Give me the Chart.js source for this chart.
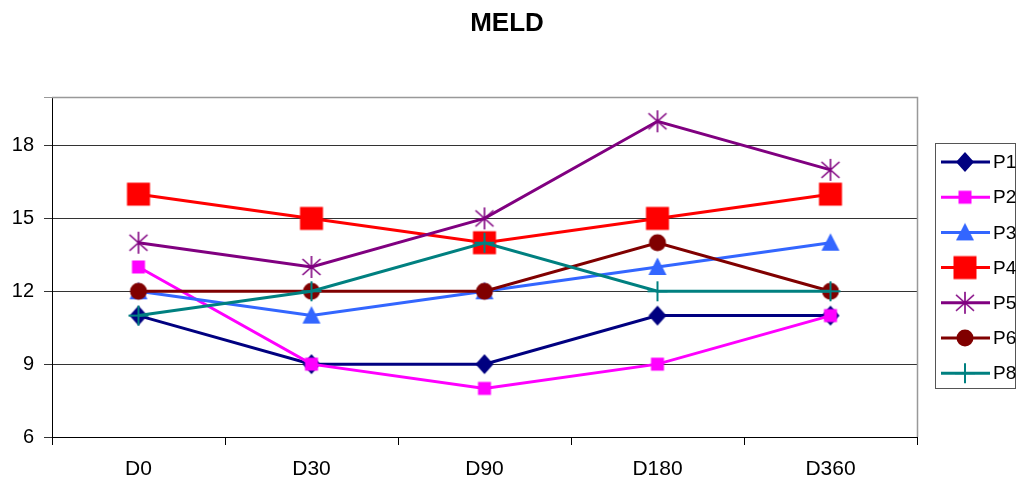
<!DOCTYPE html>
<html>
<head>
<meta charset="utf-8">
<script src="https://cdn.jsdelivr.net/npm/chart.js@4/dist/chart.umd.min.js"></script>
<style>
  html, body { margin: 0; padding: 0; background: #fff; }
  #wrap { width: 1017px; height: 484px; position: relative; }
</style>
</head>
<body>
<div id="wrap"><canvas id="c" width="1017" height="484"></canvas></div>
<script>
const categories = ['D0', 'D30', 'D90', 'D180', 'D360'];
const seriesNames = ['P1', 'P2', 'P3', 'P4', 'P5', 'P6', 'P8'];
const P1 = [11, 9, 9, 11, 11];
const P2 = [13, 9, 8, 9, 11];
const P3 = [12, 11, 12, 13, 14];
const P4 = [16, 15, 14, 15, 16];
const P5 = [14, 13, 15, 19, 17];
const P6 = [12, 12, 12, 14, 12];
const P8 = [11, 12, 14, 12, 12];
const yTicks = [6, 9, 12, 15, 18];
const chartTitle = 'MELD';

const seriesValues = [P1, P2, P3, P4, P5, P6, P8];
const colors = ['#000080', '#FF00FF', '#3366FF', '#FF0000', '#800080', '#800000', '#008080'];
const shapes = ['diamond', 'square', 'triangle', 'bigsquare', 'star', 'circle', 'cross'];
const FONT = '"Liberation Sans", Arial, sans-serif';

function makeMarker(shape, color) {
  const s = 26;
  const c = document.createElement('canvas');
  c.width = s; c.height = s;
  const g = c.getContext('2d');
  const m = s / 2;
  g.fillStyle = color; g.strokeStyle = color;
  g.beginPath();
  if (shape === 'diamond') {
    g.moveTo(m, m - 10); g.lineTo(m + 9, m); g.lineTo(m, m + 10); g.lineTo(m - 9, m); g.closePath(); g.fill();
  } else if (shape === 'square') {
    g.fillRect(m - 6.5, m - 6.5, 13, 13);
  } else if (shape === 'bigsquare') {
    g.fillRect(m - 11.5, m - 11.5, 23, 23);
  } else if (shape === 'triangle') {
    g.moveTo(m, m - 9.5); g.lineTo(m + 9, m + 8); g.lineTo(m - 9, m + 8); g.closePath(); g.fill();
  } else if (shape === 'circle') {
    g.arc(m, m, 8.5, 0, Math.PI * 2); g.fill();
  } else if (shape === 'star') {
    g.lineWidth = 1.6;
    g.moveTo(m, m - 11); g.lineTo(m, m + 11);
    g.moveTo(m - 9, m - 8); g.lineTo(m + 9, m + 8);
    g.moveTo(m + 9, m - 8); g.lineTo(m - 9, m + 8);
    g.stroke();
  } else if (shape === 'cross') {
    g.lineWidth = 2;
    g.moveTo(m, m - 10); g.lineTo(m, m + 10);
    g.moveTo(m - 10, m); g.lineTo(m + 10, m);
    g.stroke();
  }
  return c;
}
const markers = shapes.map((s, i) => makeMarker(s, colors[i]));

const datasets = seriesNames.map((name, i) => ({
  label: name,
  data: seriesValues[i],
  borderColor: colors[i],
  backgroundColor: colors[i],
  borderWidth: 3,
  pointStyle: markers[i],
  pointRadius: 10,
  pointHoverRadius: 10,
  tension: 0,
  fill: false,
  order: seriesNames.length - i
}));

const framePlugin = {
  id: 'frame',
  beforeDatasetsDraw(chart) {
    const { ctx, chartArea: a } = chart;
    ctx.save();
    ctx.strokeStyle = '#999999';
    ctx.lineWidth = 1.5;
    ctx.beginPath();
    ctx.moveTo(a.left, a.top + 0.5);
    ctx.lineTo(a.right + 0.5, a.top + 0.5);
    ctx.lineTo(a.right + 0.5, a.bottom);
    ctx.stroke();
    ctx.restore();
  },
  afterDraw(chart) {
    const { ctx } = chart;
    ctx.save();
    // Title
    ctx.fillStyle = '#000';
    ctx.font = 'bold 26px ' + FONT;
    ctx.textAlign = 'center';
    ctx.textBaseline = 'middle';
    ctx.fillText(chartTitle, 507, 23.5);
    // Legend
    const bx = 935.5, by = 143.5, bw = 80, bh = 245;
    ctx.strokeStyle = '#555';
    ctx.lineWidth = 1;
    ctx.strokeRect(bx, by, bw, bh);
    ctx.font = '19px ' + FONT;
    ctx.textAlign = 'left';
    const y0 = 162, dy = 35.2;
    chart.data.datasets.forEach((ds, i) => {
      const y = y0 + i * dy;
      ctx.strokeStyle = ds.borderColor;
      ctx.lineWidth = 3;
      ctx.beginPath();
      ctx.moveTo(941, y);
      ctx.lineTo(990, y);
      ctx.stroke();
      const mk = markers[i];
      ctx.drawImage(mk, 965 - mk.width / 2, y - mk.height / 2);
      ctx.fillStyle = '#000';
      ctx.fillText(ds.label, 993, y + 1);
    });
    ctx.restore();
  }
};

new Chart(document.getElementById('c'), {
  type: 'line',
  data: { labels: categories, datasets },
  options: {
    responsive: false,
    animation: false,
    devicePixelRatio: 1,
    layout: { padding: { top: 97, right: 100, left: 0, bottom: 0 } },
    plugins: {
      legend: { display: false },
      title: { display: false },
      tooltip: { enabled: false }
    },
    scales: {
      x: {
        offset: true,
        grid: { offset: true, drawOnChartArea: false, drawTicks: true, tickLength: 8, color: '#000' },
        border: { color: '#000', width: 1 },
        ticks: { color: '#000', font: { size: 21, family: FONT }, padding: 12, maxRotation: 0 },
        afterFit(s) { s.height = 47; }
      },
      y: {
        min: 6,
        max: 20,
        afterBuildTicks(s) { s.ticks = yTicks.concat([20]).map(v => ({ value: v })); },
        grid: {
          color: (c) => (c.tick && c.tick.value === 20 ? '#999999' : '#333333'),
          lineWidth: 1,
          tickLength: 8,
          drawTicks: true
        },
        border: { color: '#000', width: 1 },
        ticks: {
          color: '#000',
          font: { size: 20, family: FONT },
          padding: 10,
          callback: (v) => (yTicks.includes(v) ? String(v) : '')
        },
        afterFit(s) { s.width = 52; }
      }
    }
  },
  plugins: [framePlugin]
});
</script>
</body>
</html>
